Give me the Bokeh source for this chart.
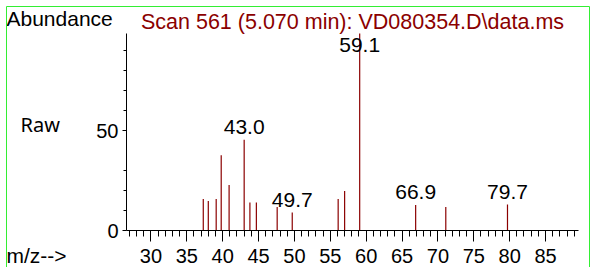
from bokeh.plotting import figure
from bokeh.models import Range1d, FixedTicker, Label, BoxAnnotation, ColumnDataSource
from bokeh.core.properties import value
from bokeh.embed import file_html
from bokeh.resources import INLINE

# ---- data ----
mz = [37.3, 38.0, 39.1, 39.8, 40.9, 43.0, 43.8, 44.7, 47.6, 49.7, 56.1, 57.0, 59.1, 66.9, 71.1, 79.7]
abundance = [15.8, 14.8, 15.8, 37.6, 22.8, 45.4, 14.0, 14.0, 11.7, 9.0, 15.8, 19.8, 100.0, 12.8, 11.8, 13.0]
label_mz = [43.0, 49.7, 59.1, 66.9, 79.7]
label_text = ["43.0", "49.7", "59.1", "66.9", "79.7"]
x_major = [30, 35, 40, 45, 50, 55, 60, 65, 70, 75, 80, 85]
x_minor = list(range(27, 90))
y_major = [0, 50]
y_minor = [10, 20, 30, 60, 70, 80, 90]
title_text = "Scan 561 (5.070 min): VD080354.D\\data.ms"

# axis extents (data units)
X_MIN, X_MAX = 26.6, 89.6
Y_MIN, Y_TOP = 0, 98.5
LABEL_CEIL = 86.2

# layout (pixels)
W, H = 592, 267
AXIS_LEFT_PX = 126      # where the y axis sits
AXIS_BOTTOM_PX = 230    # where the x axis sits
PX_PER_X = 7.175
PX_PER_Y = 2.0

x_start = X_MIN - AXIS_LEFT_PX / PX_PER_X
x_end = x_start + W / PX_PER_X
y_end = AXIS_BOTTOM_PX / PX_PER_Y
y_start = y_end - H / PX_PER_Y

FONT = "Liberation Sans"
DARK_RED = "#8b0000"
GREEN = "#33ee33"

p = figure(width=W, height=H, x_range=Range1d(x_start, x_end), y_range=Range1d(y_start, y_end),
           output_backend="svg", toolbar_location=None,
           min_border_left=0, min_border_right=0, min_border_top=0, min_border_bottom=0)
p.title.visible = False
p.grid.visible = False
p.outline_line_color = None
p.background_fill_color = "white"
p.border_fill_color = "white"

xa = p.xaxis[0]
xa.fixed_location = 0
xa.bounds = (X_MIN, X_MAX)
xa.ticker = FixedTicker(ticks=x_major, minor_ticks=x_minor)
xa.major_tick_out = 11
xa.major_tick_in = 0
xa.minor_tick_out = 6
xa.minor_tick_in = 0
xa.axis_line_color = "black"
xa.major_tick_line_color = "black"
xa.minor_tick_line_color = "black"
xa.major_label_text_font = FONT
xa.major_label_text_font_size = "20px"
xa.major_label_text_color = "black"
xa.major_label_standoff = 7

ya = p.yaxis[0]
ya.fixed_location = X_MIN
ya.bounds = (Y_MIN, Y_TOP)
ya.ticker = FixedTicker(ticks=y_major, minor_ticks=y_minor)
ya.major_tick_out = 4
ya.major_tick_in = 0
ya.minor_tick_out = 3
ya.minor_tick_in = 0
ya.axis_line_color = "black"
ya.major_label_text_font = FONT
ya.major_label_text_font_size = "20px"
ya.major_label_text_color = "black"
ya.major_label_standoff = 4

shown = [min(a, Y_TOP) for a in abundance]
src = ColumnDataSource(dict(mz=mz, ab=shown))
p.segment(x0="mz", y0=0, x1="mz", y1="ab", source=src, line_color=DARK_RED, line_width=1.2)

lab_y = [min(abundance[mz.index(m)], LABEL_CEIL) for m in label_mz]
p.text(x=label_mz, y=lab_y, text=label_text, text_font=value(FONT), text_font_size="21px",
       text_align="center", text_baseline="middle", y_offset=-13, text_color="black")

def lab(px, py, text, color="black", font=FONT, size="21px", align="left"):
    # px, py: pixel position (text middle) from the top-left corner; screen units count y from the bottom
    p.add_layout(Label(x=px, y=H - py, x_units="screen", y_units="screen", text=text,
                       text_font=font, text_font_size=size, text_color=color,
                       text_align=align, text_baseline="middle"))

lab(6, 17.5, "Abundance")
lab(352, 21.7, title_text, color=DARK_RED, size="21.5px", align="center")
lab(20, 124.2, "Raw", font="Noto Sans", size="20px")
lab(6, 254.5, "m/z-->")

p.add_layout(BoxAnnotation(left=6, right=589, top=H - 6, bottom=-20,
                           left_units="screen", right_units="screen",
                           top_units="screen", bottom_units="screen",
                           fill_color=None, line_color=GREEN, line_width=1, line_alpha=1))

open("out.html", "w").write(file_html(p, INLINE))
